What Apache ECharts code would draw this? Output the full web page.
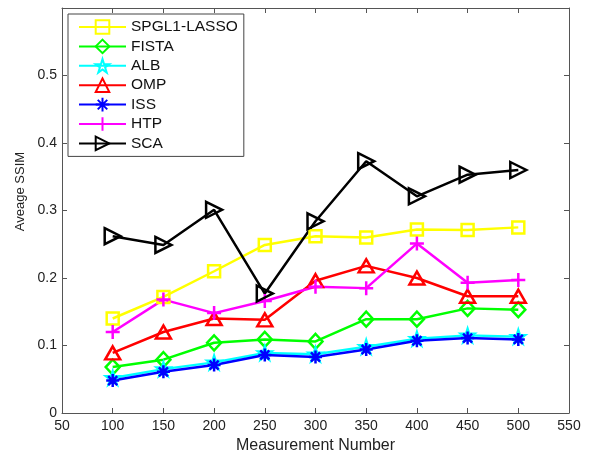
<!DOCTYPE html>
<html><head><meta charset="utf-8">
<script src="https://cdn.jsdelivr.net/npm/echarts@6/dist/echarts.min.js"></script>
<style>html,body{margin:0;padding:0;background:#fff}#c{width:590px;height:455px}</style>
</head><body><div id="c"></div>
<script>
const xValues = [100, 150, 200, 250, 300, 350, 400, 450, 500];
const seriesNames = ['SPGL1-LASSO', 'FISTA', 'ALB', 'OMP', 'ISS', 'HTP', 'SCA'];
const spgl1 = [0.140, 0.172, 0.210, 0.249, 0.262, 0.260, 0.272, 0.271, 0.275];
const fista = [0.068, 0.079, 0.104, 0.109, 0.106, 0.139, 0.139, 0.155, 0.153];
const alb   = [0.052, 0.065, 0.075, 0.089, 0.087, 0.098, 0.110, 0.115, 0.113];
const omp   = [0.089, 0.120, 0.140, 0.138, 0.196, 0.218, 0.200, 0.173, 0.173];
const iss   = [0.048, 0.061, 0.071, 0.086, 0.083, 0.094, 0.107, 0.111, 0.109];
const htp   = [0.120, 0.168, 0.148, 0.166, 0.187, 0.185, 0.251, 0.193, 0.197];
const sca   = [0.262, 0.249, 0.301, 0.177, 0.284, 0.373, 0.321, 0.353, 0.360];
const xTicks = [50, 100, 150, 200, 250, 300, 350, 400, 450, 500, 550];
const yTicks = [0, 0.1, 0.2, 0.3, 0.4, 0.5];

const allData = [spgl1, fista, alb, omp, iss, htp, sca];
const colors = ['#ffff00', '#00ff00', '#00ffff', '#ff0000', '#0000ff', '#ff00ff', '#000000'];
const symbols = [
  'path://M0,0L10,0L10,10L0,10Z',
  'path://M5,0L10,5L5,10L0,5Z',
  'path://M10,0L12.245,6.91L19.51,6.91L13.63,11.18L15.88,18.09L10,13.82L4.12,18.09L6.37,11.18L0.49,6.91L7.755,6.91Z',
  'path://M5,0L10,9L0,9Z',
  'path://M0,5L10,5M5,0L5,10M1.5,1.5L8.5,8.5M1.5,8.5L8.5,1.5',
  'path://M0,5L10,5M5,0L5,10',
  'path://M0,0L10,5L0,10Z'
];
const sizes = [[12, 12], [14, 15], [13, 13], [15, 13], [13, 13], [14, 14], [16, 16]];

const font = 'Liberation Sans, Arial, sans-serif';
const axisCol = '#555';

const series = seriesNames.map((name, i) => ({
  name: name,
  type: 'line',
  data: xValues.map((x, j) => [x, allData[i][j]]),
  symbol: symbols[i],
  symbolSize: sizes[i],
  showAllSymbol: true,
  lineStyle: { color: colors[i], width: 2.5 },
  itemStyle: { color: 'rgba(0,0,0,0)', borderColor: colors[i], borderWidth: 2.5 },
  emphasis: { disabled: true },
  animation: false
}));

const chart = echarts.init(document.getElementById('c'));
chart.setOption({
  backgroundColor: '#fff',
  animation: false,
  grid: { left: 62, right: 21, top: 8, bottom: 42, containLabel: false, outerBoundsMode: 'none' },
  legend: {
    orient: 'vertical', left: 68, top: 14,
    padding: [5, 6, 5, 10],
    itemWidth: 47, itemHeight: 17, itemGap: 3.4,
    borderColor: '#444', borderWidth: 1,
    backgroundColor: '#fff',
    textStyle: { fontFamily: font, fontSize: 15.5, color: '#111' },
    data: seriesNames
  },
  xAxis: [{
    type: 'value', min: 50, max: 550, interval: 50,
    name: 'Measurement Number', nameLocation: 'middle', nameGap: 23,
    nameTextStyle: { fontFamily: font, fontSize: 16, color: '#222', verticalAlign: 'top' },
    axisLine: { lineStyle: { color: axisCol, width: 1 } },
    axisTick: { inside: true, length: 5, lineStyle: { color: axisCol } },
    axisLabel: { fontFamily: font, fontSize: 14, color: '#222', margin: 6 },
    splitLine: { show: false }
  }, {
    type: 'value', position: 'top', min: 50, max: 550, interval: 50,
    axisLine: { show: true, onZero: false, lineStyle: { color: axisCol, width: 1 } },
    axisTick: { inside: true, length: 5, lineStyle: { color: axisCol } },
    axisLabel: { show: false }, splitLine: { show: false }
  }],
  yAxis: [{
    type: 'value', min: 0, max: 0.6, interval: 0.1,
    name: 'Aveage SSIM', nameLocation: 'middle', nameGap: 35,
    nameTextStyle: { fontFamily: font, fontSize: 13, color: '#222', padding: [0, 0, 0, 38] },
    axisLine: { show: true, lineStyle: { color: axisCol, width: 1 } },
    axisTick: { inside: true, length: 5, lineStyle: { color: axisCol } },
    axisLabel: {
      fontFamily: font, fontSize: 14, color: '#222', margin: 5,
      formatter: v => { const t = yTicks.find(y => Math.abs(y - v) < 1e-9); return t === undefined ? '' : String(t); }
    },
    splitLine: { show: false }
  }, {
    type: 'value', position: 'right', min: 0, max: 0.6, interval: 0.1,
    axisLine: { show: true, onZero: false, lineStyle: { color: axisCol, width: 1 } },
    axisTick: { inside: true, length: 5, lineStyle: { color: axisCol } },
    axisLabel: { show: false }, splitLine: { show: false }
  }],
  series: series
});
</script>
</body></html>
